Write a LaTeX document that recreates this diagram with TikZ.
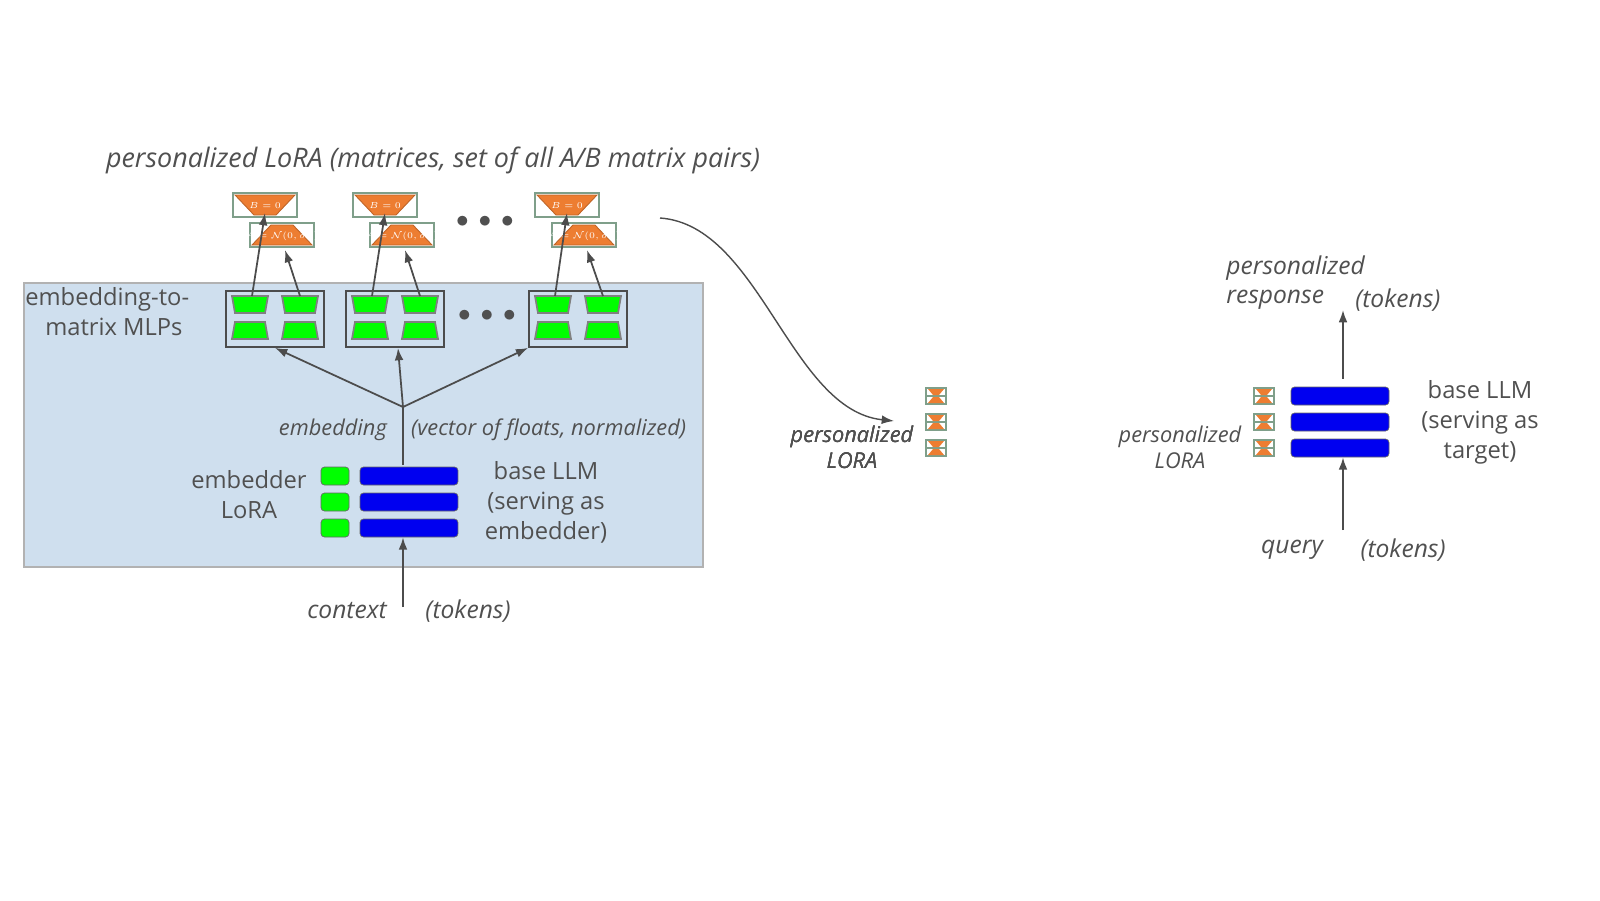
\documentclass[tikz,border=0pt]{standalone}
\usepackage{fontspec}
\setmainfont{Open Sans}
\usetikzlibrary{arrows.meta}
\definecolor{panel}{HTML}{CFDFEE}
\definecolor{lorab}{HTML}{0000F0}
\definecolor{loraor}{HTML}{ED7D31}
\definecolor{framegr}{HTML}{7F9F8A}
\definecolor{txt}{HTML}{505050}
\newcommand{\gtrap}[3]{% x, y, 1 = wide top / -1 = wide bottom
  \filldraw[fill=green,draw=gray,line width=1pt]
    ({#1-18},{#2-8.5*#3}) -- ({#1+18},{#2-8.5*#3}) -- ({#1+15},{#2+8.5*#3}) -- ({#1-15},{#2+8.5*#3}) -- cycle;}
\newcommand{\omat}[4]{% x, y, 1 = wide top / -1, label
  \draw[framegr,line width=1pt] ({#1-32},{#2-12}) rectangle ({#1+32},{#2+12});
  \filldraw[fill=loraor,draw=loraor!80!black,line width=.5pt]
    ({#1-30},{#2-10*#3}) -- ({#1+30},{#2-10*#3}) -- ({#1+11},{#2+10*#3}) -- ({#1-11},{#2+10*#3}) -- cycle;
  \node[text=white,font=\fontsize{3}{3}\selectfont,inner sep=0pt] at (#1,#2) {#4};}
\newcommand{\tinylora}[2]{% x, y
  \draw[framegr,line width=1pt] ({#1-10},{#2-8}) rectangle ({#1+10},{#2+8});
  \draw[framegr,line width=.7pt] ({#1-10},#2) -- ({#1+10},#2);
  \fill[loraor] ({#1-8},{#2-7}) -- ({#1+8},{#2-7}) -- ({#1+3},{#2-1}) -- ({#1-3},{#2-1}) -- cycle;
  \fill[loraor] ({#1-8},{#2+7}) -- ({#1+8},{#2+7}) -- ({#1+3},{#2+1}) -- ({#1-3},{#2+1}) -- cycle;}
\begin{document}
\begin{tikzpicture}[x=0.02cm,y=-0.02cm,
    lbl/.style={text=txt,font=\fontsize{13.5}{17}\selectfont,align=center},
    ilbl/.style={text=txt,font=\fontsize{12.4}{15}\selectfont\itshape,align=center},
    tok/.style={ilbl,font=\fontsize{14}{17}\selectfont\itshape},
    dots/.style={text=txt,font=\fontsize{14}{14}\selectfont},
    llm/.style={draw=black!60,fill=lorab,rounded corners=2pt,minimum width=1.96cm,minimum height=0.36cm,inner sep=0pt},
    emb/.style={draw=black!60,fill=green,rounded corners=2pt,minimum width=0.56cm,minimum height=0.36cm,inner sep=0pt},
    mlp/.style={draw=black!70,line width=1pt,minimum width=1.96cm,minimum height=1.12cm,inner sep=0pt},
    arr/.style={-{Latex[length=7pt,width=5pt]},draw=black!70,line width=1pt}]
% embedder panel
\draw[fill=panel,draw=black!30,line width=1pt] (24,283) rectangle (703,567);
\node[lbl,anchor=north west,inner sep=0pt] at (25,287) {embedding-to-};
\node[lbl,anchor=north west,inner sep=0pt] at (45,318) {matrix MLPs};
% MLP blocks
\foreach \n/\x in {m1/275,m2/395,m3/578}{
  \node[mlp] (\n) at (\x,319) {};
  \gtrap{\x-25}{304.5}{1} \gtrap{\x+25}{304.5}{1}
  \gtrap{\x-25}{330.5}{-1} \gtrap{\x+25}{330.5}{-1}
}
\node[dots] at (487,316) {$\bullet\,\bullet\,\bullet$};
% personalized LoRA matrices
\foreach \n/\x in {1/265,2/385,3/567}{
  \omat{\x}{205}{1}{$B=0$}
  \omat{\x+17}{235}{-1}{$A=\mathcal{N}(0,\sigma^2)$}
  \coordinate (b\n) at (\x,213);
  \coordinate (a\n) at (\x+20,250);
}
\node[dots] at (485,222) {$\bullet\,\bullet\,\bullet$};
\node[ilbl,font=\fontsize{15.3}{18}\selectfont\itshape] at (433,160) {personalized LoRA (matrices, set of all A/B matrix pairs)};
\foreach \n/\x in {1/275,2/395,3/578}{
  \draw[arr] (\x-23,296) -- (b\n);
  \draw[arr] (\x+25,296) -- (a\n);
}
% embedder LLM
\foreach \i/\y in {1/476,2/502,3/528}{
  \node[llm] (e\i) at (409,\y) {};
  \node[emb] (g\i) at (335,\y) {};
}
\node[lbl] at (249,495) {embedder\\LoRA};
\node[lbl] at (546,502) {base LLM\\(serving as\\embedder)};
\coordinate (hub) at (403,407);
\draw[draw=black!70,line width=1pt] (403,465) -- (hub);
\draw[arr] (hub) -- (m1.south);
\draw[arr] (hub) -- (398,348);
\draw[arr] (hub) -- (m3.south west);
\node[ilbl,anchor=east] at (393,430) {embedding};
\node[ilbl,anchor=west] at (405,430) {(vector of floats, normalized)};
\coordinate (ctx) at (403,607);
\draw[arr] (ctx) -- (e3.south -| ctx);
\node[tok] at (347,611) {context};
\node[tok] at (468,611) {(tokens)};
% middle: transferred LoRA
\coordinate (src) at (660,218);
\coordinate (dst) at (894,421);
\draw[arr,line width=.8pt] (src) .. controls (760,225) and (790,410) .. (dst);
\foreach \y in {396,422,448} \tinylora{936}{\y}
\node[ilbl] at (852,447) {personalized\\LORA};
% right: target LLM
\foreach \i/\y in {1/396,2/422,3/448}{
  \node[llm] (t\i) at (1340,\y) {};
  \tinylora{1264}{\y}
}
\node[ilbl] at (1180,447) {personalized\\LORA};
\node[lbl] at (1480,422) {base LLM\\(serving as\\target)};
\coordinate (qry) at (1343,530);
\coordinate (resp) at (1343,310);
\draw[arr] (qry) -- (t3.south -| qry);
\draw[arr] (t1.north -| resp) ++(0,-8) -- (resp);
\node[tok] at (1292,550) {query};
\node[tok] at (1403,550) {(tokens)};
\node[tok,anchor=west,inner sep=0pt] at (1226,268) {personalized};
\node[tok,anchor=west,inner sep=0pt] at (1226,300) {response};
\node[tok,anchor=west,inner sep=0pt] at (1355,300) {(tokens)};
\pgfresetboundingbox
\path[use as bounding box] (0,0) rectangle (1600,900);
\end{tikzpicture}
\end{document}
